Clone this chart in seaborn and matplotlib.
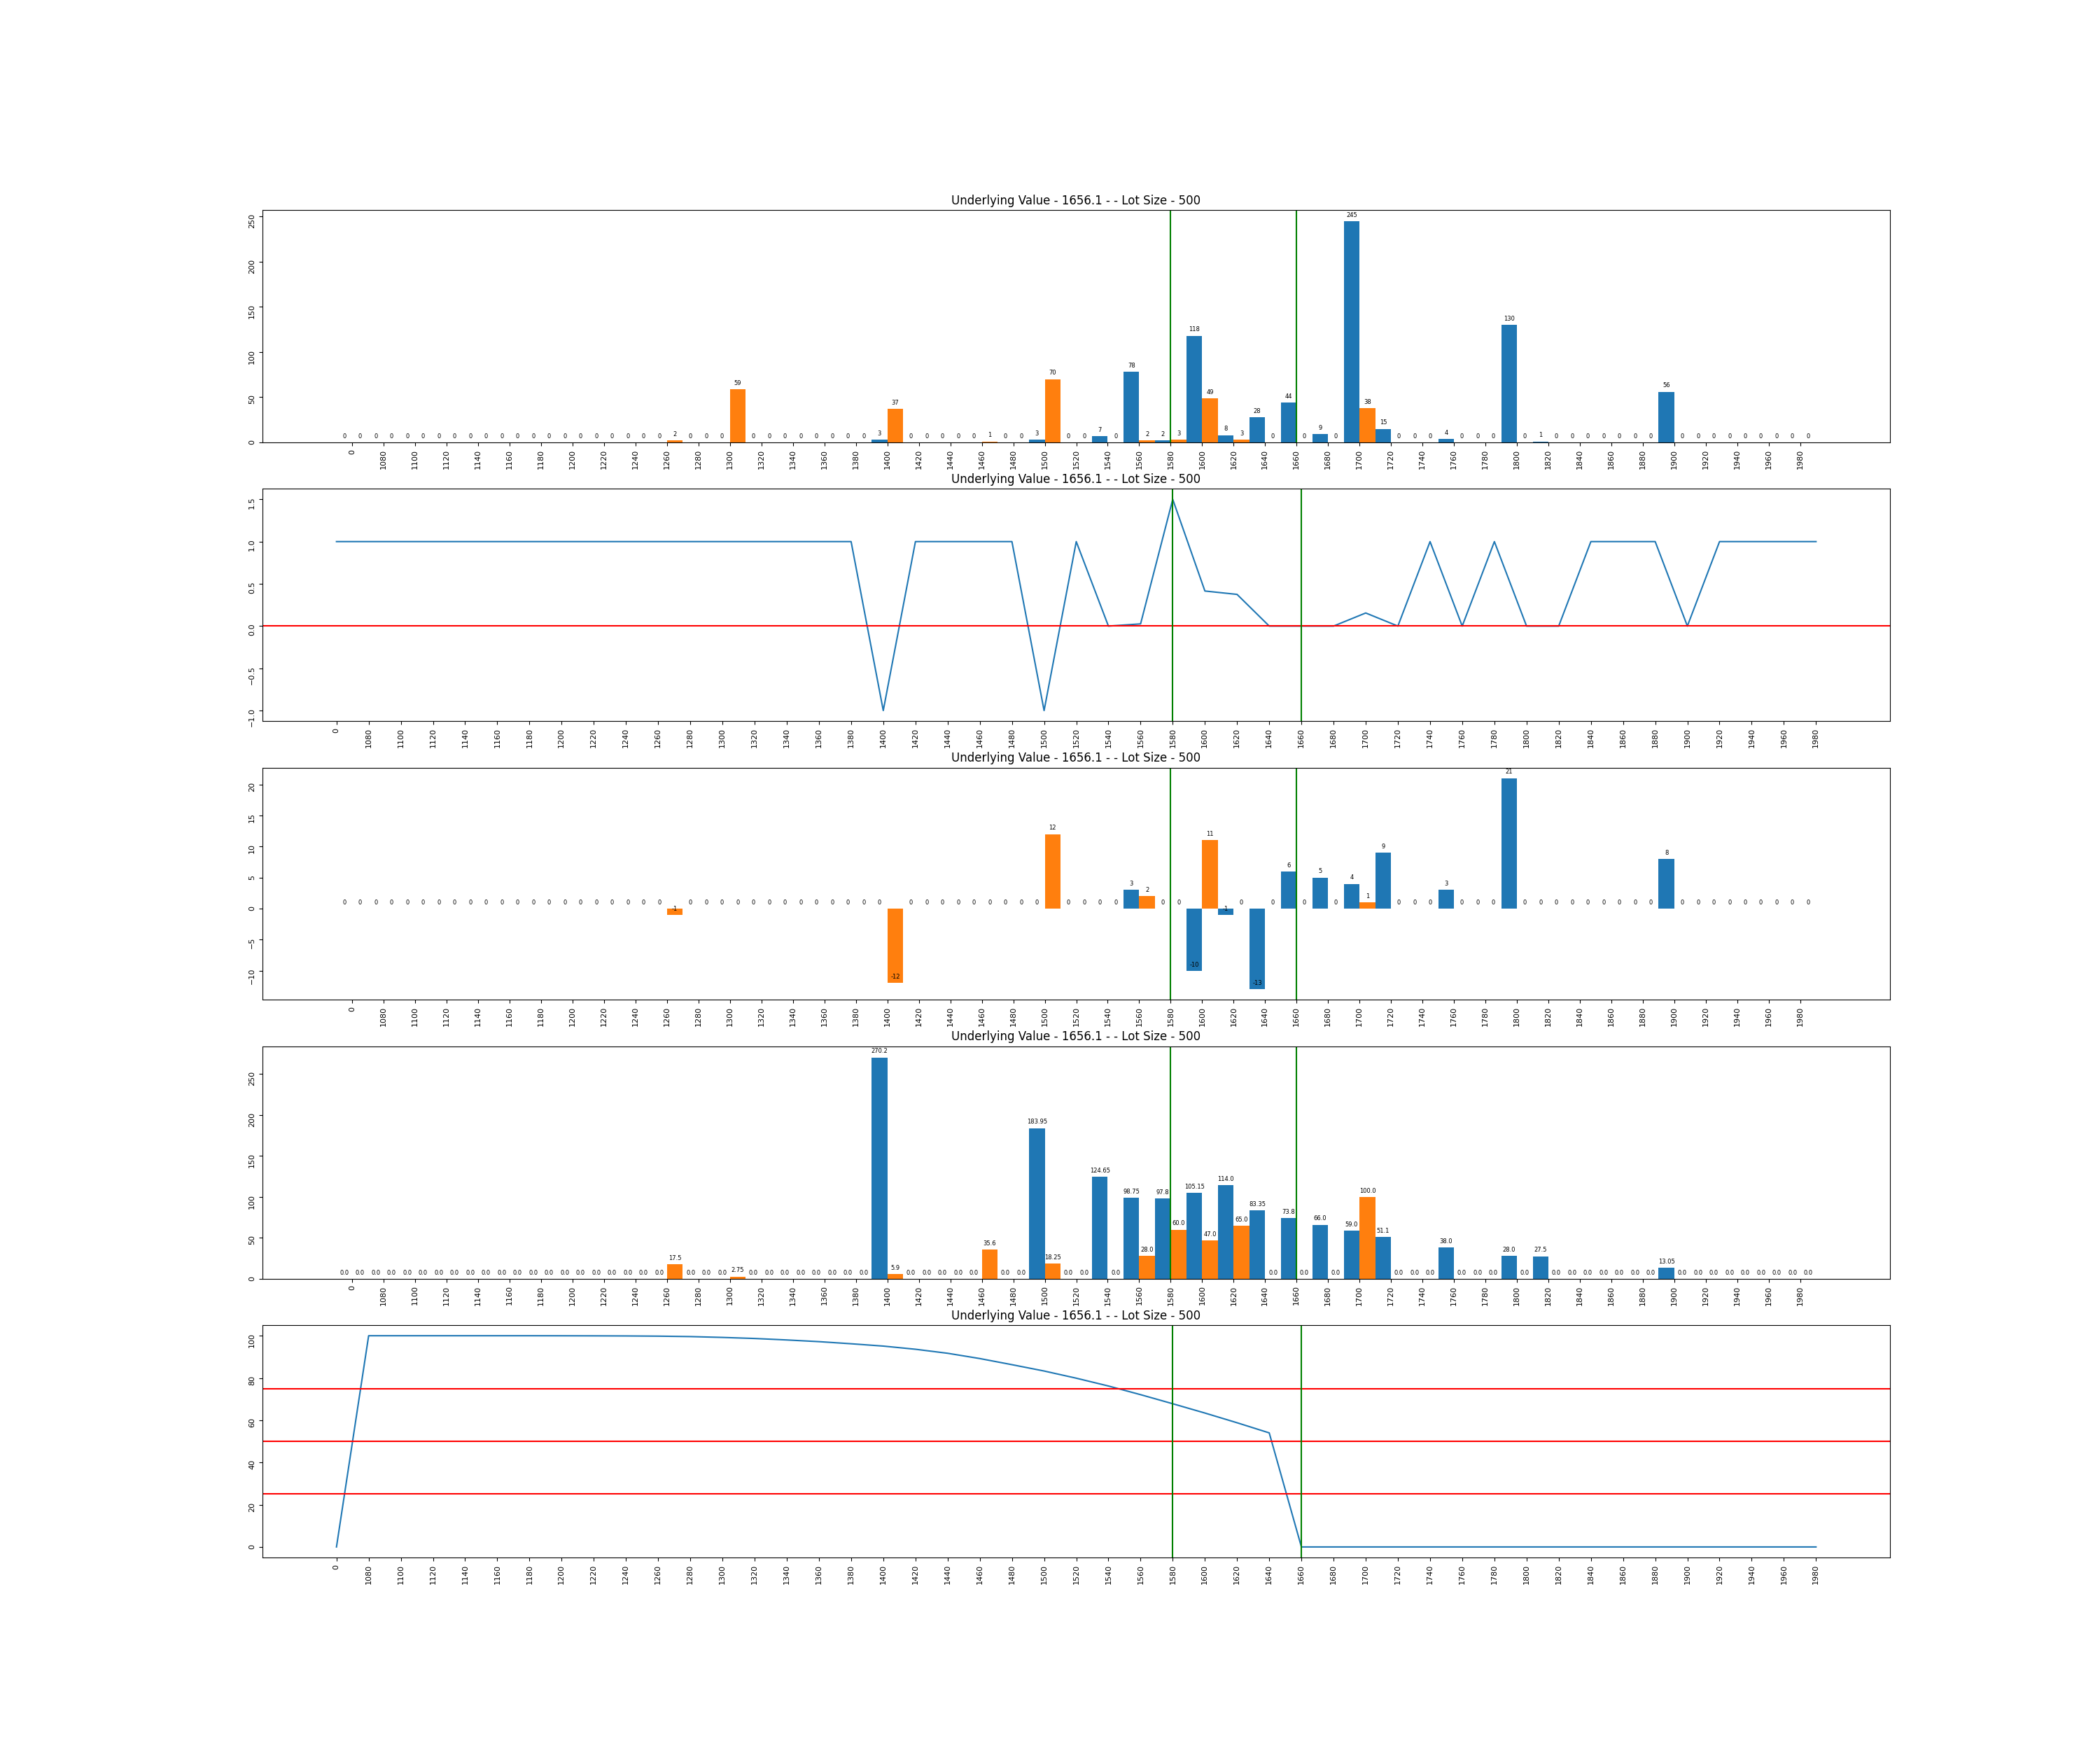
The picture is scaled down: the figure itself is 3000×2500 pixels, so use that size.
import numpy as np
import pandas as pd
import matplotlib
matplotlib.use("Agg")
import matplotlib.pyplot as plt
import seaborn as sns

# --- data ---
strikes = ["0", "1080", "1100", "1120", "1140", "1160", "1180", "1200", "1220", "1240",
           "1260", "1280", "1300", "1320", "1340", "1360", "1380", "1400", "1420", "1440",
           "1460", "1480", "1500", "1520", "1540", "1560", "1580", "1600", "1620", "1640",
           "1660", "1680", "1700", "1720", "1740", "1760", "1780", "1800", "1820", "1840",
           "1860", "1880", "1900", "1920", "1940", "1960", "1980"]

# open interest (calls / puts)
ce_oi = [0, 0, 0, 0, 0, 0, 0, 0, 0, 0,
         0, 0, 0, 0, 0, 0, 0, 3, 0, 0,
         0, 0, 3, 0, 7, 78, 2, 118, 8, 28,
         44, 9, 245, 15, 0, 4, 0, 130, 1, 0,
         0, 0, 56, 0, 0, 0, 0]
pe_oi = [0, 0, 0, 0, 0, 0, 0, 0, 0, 0,
         2, 0, 59, 0, 0, 0, 0, 37, 0, 0,
         1, 0, 70, 0, 0, 2, 3, 49, 3, 0,
         0, 0, 38, 0, 0, 0, 0, 0, 0, 0,
         0, 0, 0, 0, 0, 0, 0]

# put/call ratio line
pcr = [1, 1, 1, 1, 1, 1, 1, 1, 1, 1,
       1, 1, 1, 1, 1, 1, 1, -1, 1, 1,
       1, 1, -1, 1, 0, 0.026, 1.5, 0.415, 0.375, 0,
       0, 0, 0.155, 0, 1, 0, 1, 0, 0, 1,
       1, 1, 0, 1, 1, 1, 1]

# change in open interest
ce_chg = [0, 0, 0, 0, 0, 0, 0, 0, 0, 0,
          0, 0, 0, 0, 0, 0, 0, 0, 0, 0,
          0, 0, 0, 0, 0, 3, 0, -10, -1, -13,
          6, 5, 4, 9, 0, 3, 0, 21, 0, 0,
          0, 0, 8, 0, 0, 0, 0]
pe_chg = [0, 0, 0, 0, 0, 0, 0, 0, 0, 0,
          -1, 0, 0, 0, 0, 0, 0, -12, 0, 0,
          0, 0, 12, 0, 0, 2, 0, 11, 0, 0,
          0, 0, 1, 0, 0, 0, 0, 0, 0, 0,
          0, 0, 0, 0, 0, 0, 0]

# last traded price
ce_ltp = [0.0, 0.0, 0.0, 0.0, 0.0, 0.0, 0.0, 0.0, 0.0, 0.0,
          0.0, 0.0, 0.0, 0.0, 0.0, 0.0, 0.0, 270.2, 0.0, 0.0,
          0.0, 0.0, 183.95, 0.0, 124.65, 98.75, 97.8, 105.15, 114.0, 83.35,
          73.8, 66.0, 59.0, 51.1, 0.0, 38.0, 0.0, 28.0, 27.5, 0.0,
          0.0, 0.0, 13.05, 0.0, 0.0, 0.0, 0.0]
pe_ltp = [0.0, 0.0, 0.0, 0.0, 0.0, 0.0, 0.0, 0.0, 0.0, 0.0,
          17.5, 0.0, 2.75, 0.0, 0.0, 0.0, 0.0, 5.9, 0.0, 0.0,
          35.6, 0.0, 18.25, 0.0, 0.0, 28.0, 60.0, 47.0, 65.0, 0.0,
          0.0, 0.0, 100.0, 0.0, 0.0, 0.0, 0.0, 0.0, 0.0, 0.0,
          0.0, 0.0, 0.0, 0.0, 0.0, 0.0, 0.0]

# probability curve
prob = [0, 100, 100, 100, 100, 100, 100, 99.98, 99.95, 99.9,
        99.8, 99.6, 99.2, 98.7, 98.0, 97.2, 96.2, 95.1, 93.6, 91.7,
        89.2, 86.3, 83.3, 79.9, 76.2, 72.1, 67.8, 63.4, 58.8, 54.0,
        0, 0, 0, 0, 0, 0, 0, 0, 0, 0,
        0, 0, 0, 0, 0, 0, 0]
prob_levels = [25, 50, 75]

band = ["1580", "1660"]
title = "Underlying Value - 1656.1 - - Lot Size - 500"
colors = ["#1f77b4", "#ff7f0e"]


def bar_panel(ax, ce, pe, as_float=False):
    n = len(strikes)
    df = pd.DataFrame({"strike": strikes * 2, "val": ce + pe,
                       "side": ["CE"] * n + ["PE"] * n})
    sns.barplot(data=df, x="strike", y="val", hue="side", order=strikes,
                hue_order=["CE", "PE"], palette=colors, saturation=1,
                width=1.0, gap=0, errorbar=None, legend=False,
                linewidth=0, ax=ax)
    # labels on every bar, 3pt above the bar end
    for cont in ax.containers:
        for rect, v in zip(cont, cont.datavalues):
            txt = str(float(v)) if as_float else str(int(round(v)))
            ax.annotate(txt, xy=(rect.get_x() + rect.get_width() / 2, rect.get_height()),
                        xytext=(0, 3), textcoords="offset points",
                        ha="center", va="bottom", fontsize=6)
    ax.autoscale(enable=True, axis="x")
    ax.margins(x=0.05)


def line_panel(ax, vals):
    sns.lineplot(x=np.arange(len(strikes)), y=vals, color=colors[0], ax=ax)
    ax.set_xticks(np.arange(len(strikes)), strikes)


fig, axes = plt.subplots(5, 1, figsize=(30, 25))

bar_panel(axes[0], ce_oi, pe_oi)
line_panel(axes[1], pcr)
axes[1].axhline(0, color="red", linewidth=1.5)
bar_panel(axes[2], ce_chg, pe_chg)
bar_panel(axes[3], ce_ltp, pe_ltp, as_float=True)
line_panel(axes[4], prob)
for lvl in prob_levels:
    axes[4].axhline(lvl, color="red", linewidth=1.5)

for ax in axes:
    for s in band:
        ax.axvline(strikes.index(s), color="green")
    ax.set_title(title)
    ax.set_xlabel("")
    ax.set_ylabel("")
    ax.tick_params(axis="x", labelrotation=90, labelsize=8)
    ax.tick_params(axis="y", labelrotation=90, labelsize=8)

fig.savefig("out.png", dpi=100)
